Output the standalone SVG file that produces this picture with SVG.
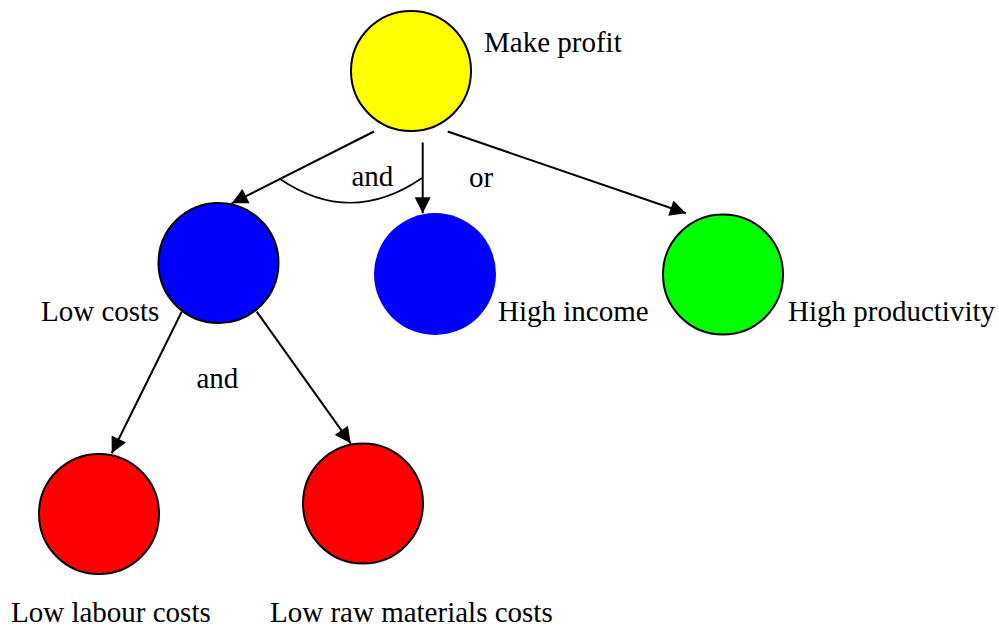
<svg xmlns="http://www.w3.org/2000/svg" width="999" height="627" viewBox="0 0 999 627">
<style>
.n{stroke:#000;stroke-width:2}
.t{font-family:"Liberation Serif","Times New Roman",serif;font-size:29px;fill:#000}
.c{stroke:#000;stroke-width:2;fill:none}
</style>
<defs>
<marker id="ah" viewBox="0 0 10 10" refX="10" refY="5" markerWidth="8.5" markerHeight="8" markerUnits="strokeWidth" orient="auto">
<path d="M0,0 L10,5 L0,10 z" fill="#000"/>
</marker>
</defs>
<rect width="999" height="627" fill="#fff"/>
<g id="connectors">
<line class="c" x1="374" y1="131.5" x2="231.7" y2="203.3" marker-end="url(#ah)"/>
<line class="c" x1="422.7" y1="142.5" x2="422.7" y2="213.3" marker-end="url(#ah)"/>
<line class="c" x1="447.7" y1="131.5" x2="686" y2="213.3" marker-end="url(#ah)"/>
<line class="c" x1="181.7" y1="311.7" x2="111.7" y2="453.3" marker-end="url(#ah)"/>
<line class="c" x1="256.7" y1="311.7" x2="350.7" y2="443.3" marker-end="url(#ah)"/>
<path d="M280,179 Q351,227 422,178" fill="none" stroke="#000" stroke-width="1.6"/>
<text class="t" x="351.5" y="186">and</text>
<text class="t" x="469" y="187">or</text>
<text class="t" x="196.5" y="388">and</text>
</g>
<g id="make-profit">
<circle class="n" cx="411" cy="71" r="60" fill="#ffff00"/>
<text class="t" x="484" y="52">Make profit</text>
</g>
<g id="low-costs">
<circle class="n" cx="218.5" cy="263" r="60" fill="#0000ff"/>
<text class="t" x="41" y="321">Low costs</text>
</g>
<g id="high-income">
<circle cx="435" cy="274" r="61" fill="#0000ff"/>
<text class="t" x="498" y="321">High income</text>
</g>
<g id="high-productivity">
<circle class="n" cx="723" cy="274.5" r="60" fill="#00ff00"/>
<text class="t" x="788" y="321">High productivity</text>
</g>
<g id="low-labour-costs">
<circle class="n" cx="99" cy="514" r="60" fill="#ff0000"/>
<text class="t" x="11" y="622">Low labour costs</text>
</g>
<g id="low-raw-materials-costs">
<circle class="n" cx="363" cy="503.5" r="60" fill="#ff0000"/>
<text class="t" x="270" y="622">Low raw materials costs</text>
</g>
</svg>
